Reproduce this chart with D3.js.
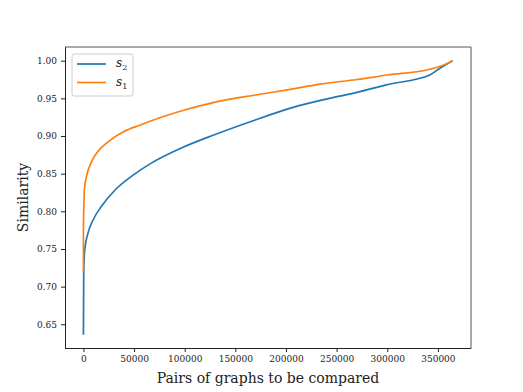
<!DOCTYPE html>
<html>
<head>
<meta charset="utf-8">
<script src="https://cdn.jsdelivr.net/npm/d3@7"></script>
<style>
  body { margin: 0; background: #fff; }
  svg text { font-family: "DejaVu Serif", serif; fill: #222; }
</style>
</head>
<body>
<svg id="chart" width="523" height="392"></svg>
<script>
// values
const s1X = [0, 0, 300, 1000, 3000, 8000, 14000, 24000, 40000, 57000, 74000, 100000, 130000, 170000, 200000, 234000, 270000, 300000, 342000, 355000, 364500];
const s1Y = [0.72, 0.78, 0.80, 0.83, 0.846, 0.866, 0.879, 0.892, 0.906, 0.915, 0.9235, 0.9345, 0.945, 0.9545, 0.961, 0.969, 0.975, 0.981, 0.9886, 0.994, 1.0];
const s2X = [0, 300, 1300, 4500, 9500, 18000, 31000, 48000, 67000, 100000, 128000, 169000, 207000, 243000, 270000, 299000, 342000, 352000, 364500];
const s2Y = [0.636, 0.72, 0.749, 0.771, 0.7885, 0.807, 0.828, 0.847, 0.864, 0.886, 0.901, 0.921, 0.938, 0.950, 0.958, 0.968, 0.981, 0.990, 1.0];
const xTicks = [0, 50000, 100000, 150000, 200000, 250000, 300000, 350000];
const yTicks = [0.65, 0.70, 0.75, 0.80, 0.85, 0.90, 0.95, 1.00];

const svg = d3.select("#chart");
const m = { left: 65, right: 471, top: 47, bottom: 348 };

const x = d3.scaleLinear().domain([-18200, 382700]).range([m.left, m.right]);
const y = d3.scaleLinear().domain([0.6185, 1.0182]).range([m.bottom, m.top]);

// axes
const xAxis = svg.append("g")
    .attr("transform", `translate(0,${m.bottom})`)
    .call(d3.axisBottom(x).tickValues(xTicks).tickFormat(d3.format("d")).tickSizeOuter(0).tickSize(4).tickPadding(4));
const yAxis = svg.append("g")
    .attr("transform", `translate(${m.left},0)`)
    .call(d3.axisLeft(y).tickValues(yTicks).tickFormat(d3.format(".2f")).tickSizeOuter(0).tickSize(4).tickPadding(4));
[xAxis, yAxis].forEach(a => {
    a.select(".domain").remove();
    a.selectAll("line").attr("stroke", "#222");
    a.selectAll("text").style("font-family", "DejaVu Serif").style("font-size", "9px").attr("fill", "#222");
});

// frame: left/bottom crisp, top/right softer like the reference
svg.append("line").attr("x1", m.left + 0.5).attr("x2", m.left + 0.5).attr("y1", m.top).attr("y2", m.bottom + 0.5)
    .attr("stroke", "#222");
svg.append("line").attr("x1", m.left).attr("x2", m.right).attr("y1", m.bottom + 0.5).attr("y2", m.bottom + 0.5)
    .attr("stroke", "#222");
svg.append("line").attr("x1", m.left).attr("x2", m.right).attr("y1", m.top).attr("y2", m.top)
    .attr("stroke", "#555");
svg.append("line").attr("x1", m.right).attr("x2", m.right).attr("y1", m.top).attr("y2", m.bottom + 1)
    .attr("stroke", "#555");

const line = d3.line().x(d => x(d[0])).y(d => y(d[1])).curve(d3.curveMonotoneX);
const series = [
    { name: "2", xs: s2X, ys: s2Y, color: "#1f77b4" },
    { name: "1", xs: s1X, ys: s1Y, color: "#ff7f0e" }
];
series.forEach(s => {
    svg.append("path")
        .datum(s.xs.map((v, i) => [v, s.ys[i]]))
        .attr("d", line)
        .attr("fill", "none")
        .attr("stroke", s.color)
        .attr("stroke-width", 1.7)
        .attr("stroke-linejoin", "round");
});

// axis labels
svg.append("text")
    .attr("x", (m.left + m.right) / 2).attr("y", 383)
    .attr("text-anchor", "middle").style("font-size", "14px")
    .text("Pairs of graphs to be compared");
svg.append("text")
    .attr("transform", `translate(28,${(m.top + m.bottom) / 2}) rotate(-90)`)
    .attr("text-anchor", "middle").style("font-size", "14px")
    .text("Similarity");

// legend
const lg = svg.append("g");
lg.append("rect")
    .attr("x", 72).attr("y", 54).attr("width", 61).attr("height", 42).attr("rx", 2)
    .attr("fill", "#fff").attr("fill-opacity", 0.8).attr("stroke", "#ccc");
series.forEach((s, i) => {
    const yy = 64 + i * 18.5;
    lg.append("line").attr("x1", 77).attr("x2", 106).attr("y1", yy).attr("y2", yy)
        .attr("stroke", s.color).attr("stroke-width", 1.7);
    const t = lg.append("text").attr("x", 116).attr("y", yy + 3).style("font-size", "12px");
    t.append("tspan").style("font-style", "italic").text("s");
    t.append("tspan").attr("dy", 3).style("font-size", "8px").text(s.name);
});
</script>
</body>
</html>
